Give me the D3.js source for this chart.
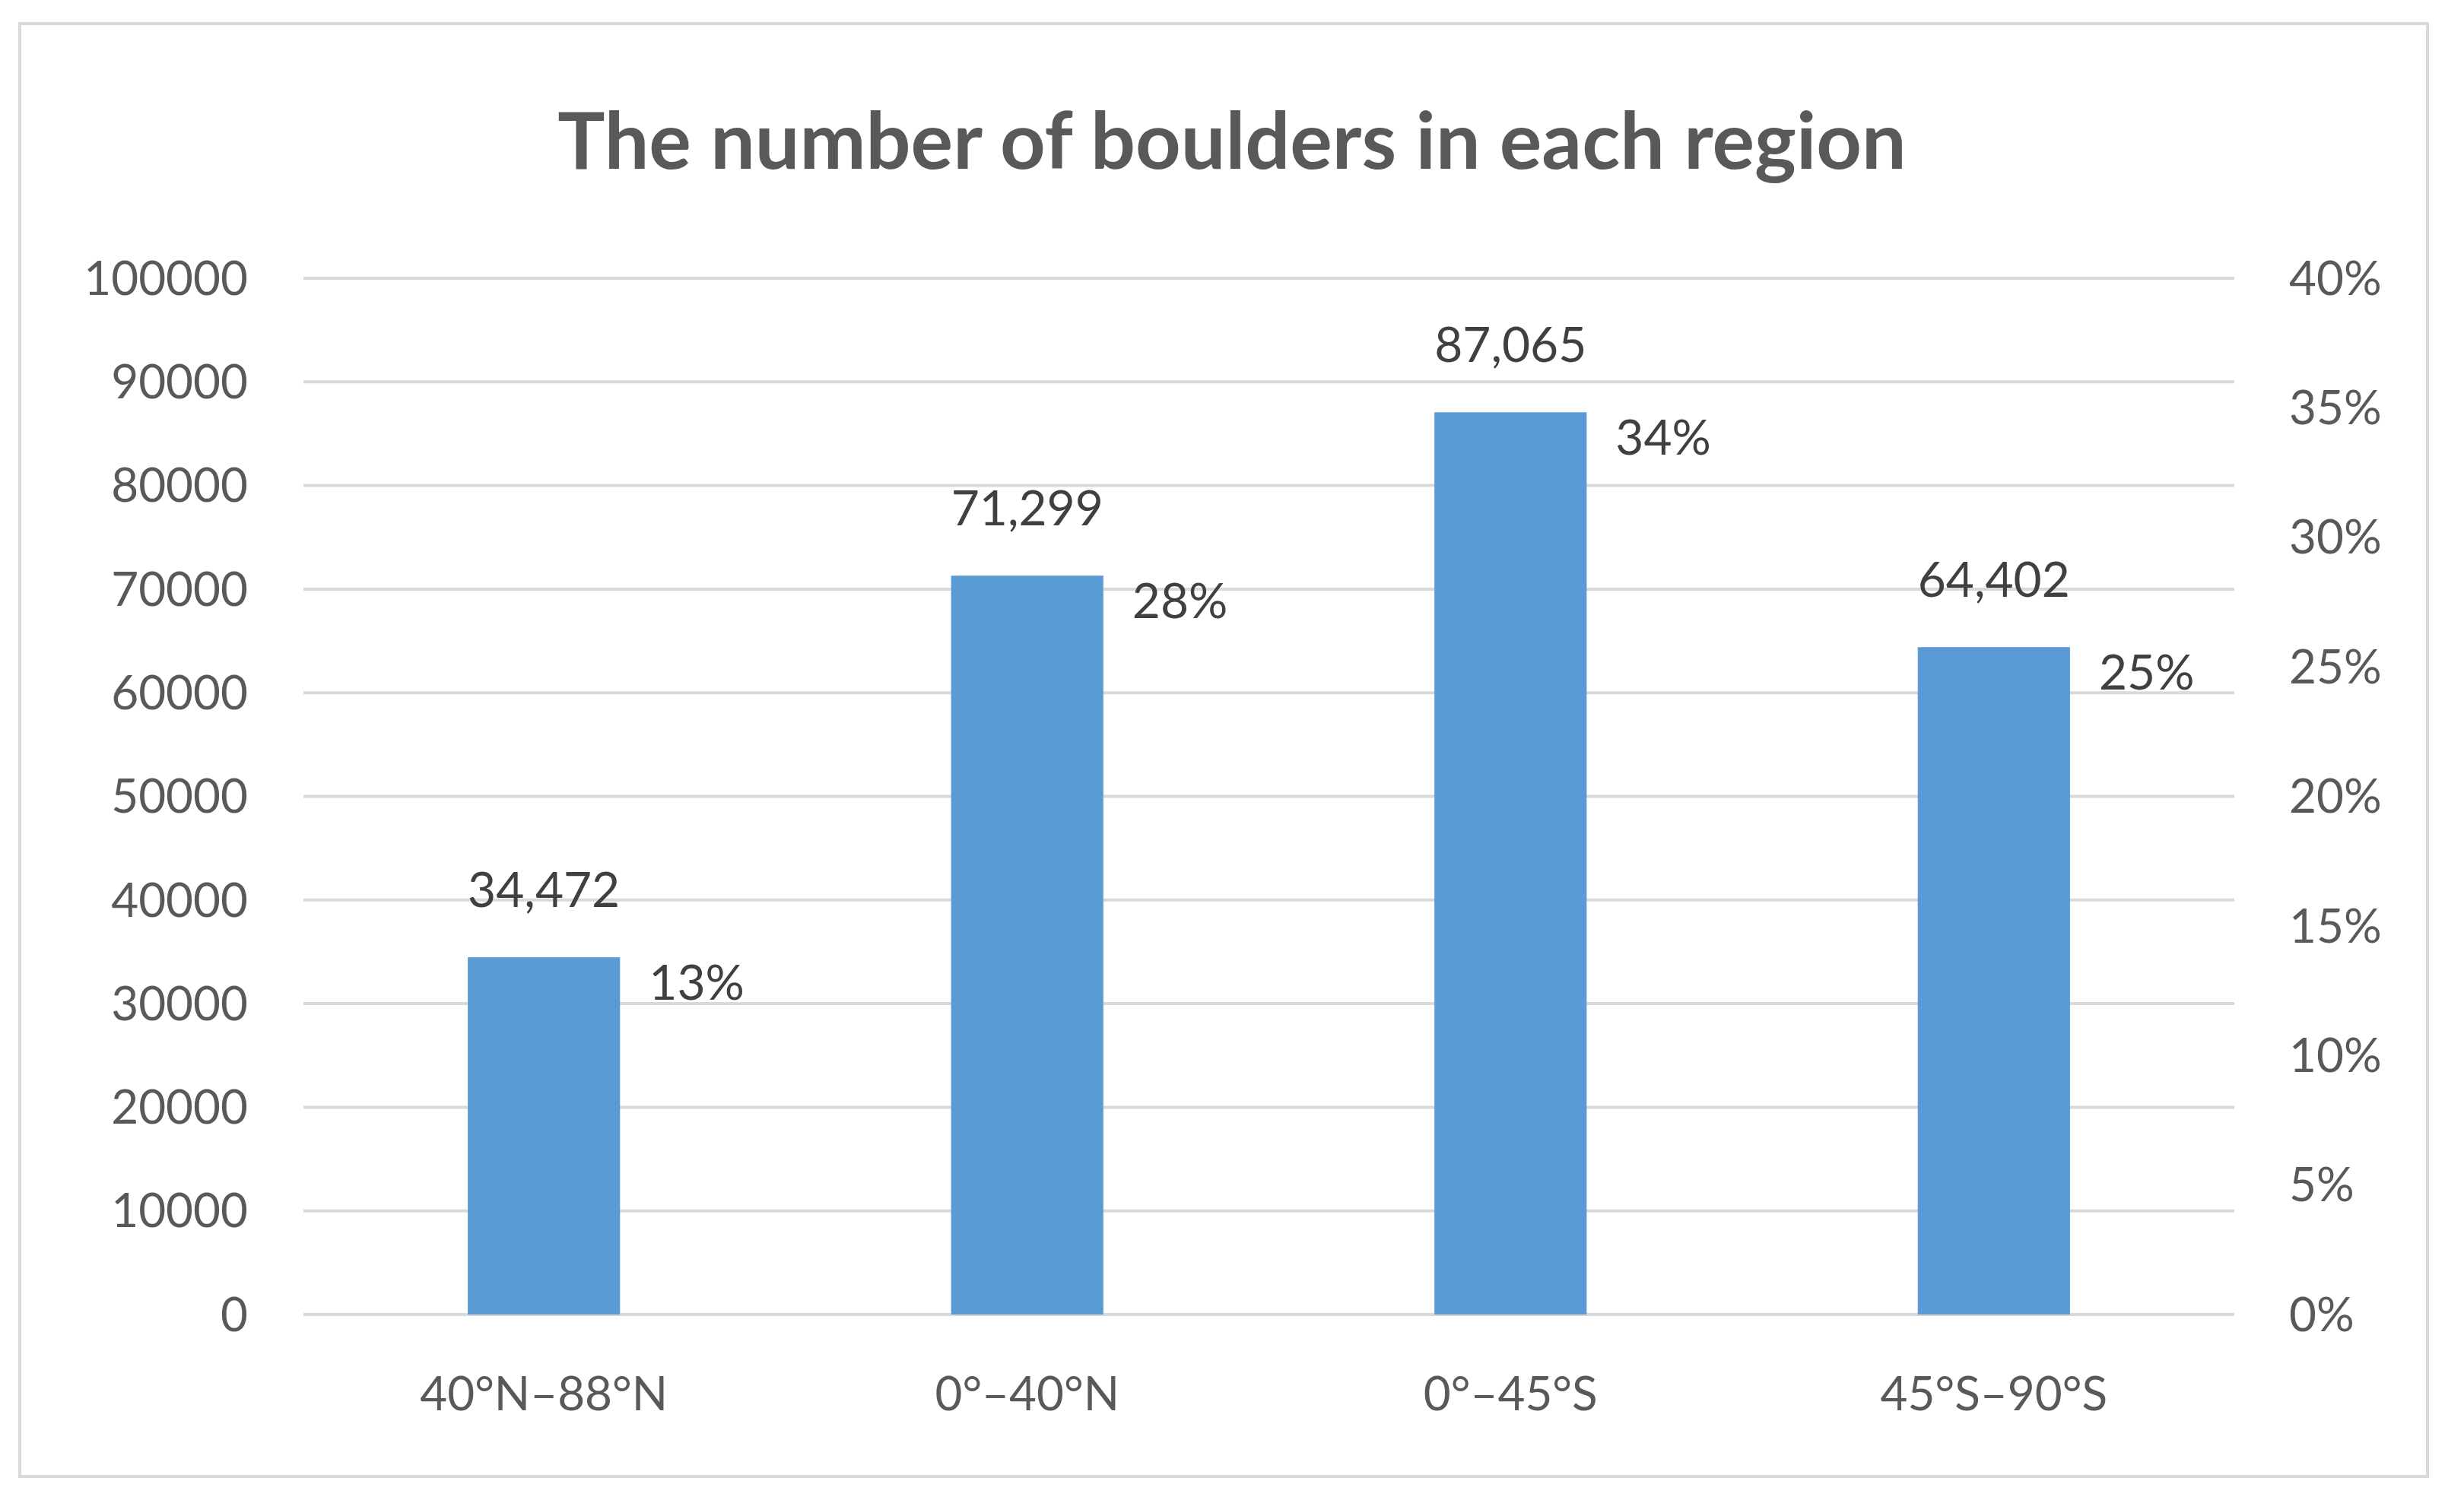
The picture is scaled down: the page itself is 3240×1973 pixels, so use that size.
<!DOCTYPE html>
<html><head><meta charset="utf-8">
<script src="https://cdn.jsdelivr.net/npm/d3@7"></script>
<style>body{margin:0;background:#fff}</style>
</head><body>
<script>
var categories = ["40°N–88°N", "0°–40°N", "0°–45°S", "45°S–90°S"];
var counts = [34472, 71299, 87065, 64402];
var shares = ["13%", "28%", "34%", "25%"];
var leftTicks = [0,10000,20000,30000,40000,50000,60000,70000,80000,90000,100000];
var rightTicks = [0,0.05,0.10,0.15,0.20,0.25,0.30,0.35,0.40];

var width = 3240, height = 1973;
var font = "Lato, 'Open Sans', sans-serif";
var svg = d3.select("body").append("svg").attr("width", width).attr("height", height);

svg.append("rect").attr("x", 26).attr("y", 31).attr("width", 3166).attr("height", 1911)
  .attr("fill", "#fff").attr("stroke", "#d9d9d9").attr("stroke-width", 4);

var x = d3.scaleBand().domain(categories).range([399, 2938]).paddingInner(0.685).paddingOuter(0.34);
var y = d3.scaleLinear().domain([0, 100000]).range([1729, 366]);
var y2 = d3.scaleLinear().domain([0, 0.4]).range([1729, 366]);

svg.append("g").selectAll("line").data(leftTicks).enter().append("line")
  .attr("x1", 399).attr("x2", 2938).attr("y1", d => y(d)).attr("y2", d => y(d))
  .attr("stroke", "#d9d9d9").attr("stroke-width", 4);

svg.append("g").selectAll("text").data(leftTicks).enter().append("text")
  .attr("x", 326).attr("y", d => y(d)).attr("dy", "0.35em").attr("text-anchor", "end")
  .attr("font-family", font).attr("font-size", 62).attr("fill", "#595959").text(d => d);

svg.append("g").selectAll("text").data(rightTicks).enter().append("text")
  .attr("x", 3010).attr("y", d => y2(d)).attr("dy", "0.35em")
  .attr("font-family", font).attr("font-size", 62).attr("fill", "#595959").text(d => Math.round(d*100) + "%");

svg.append("g").selectAll("rect").data(counts).enter().append("rect")
  .attr("x", (d, i) => x(categories[i])).attr("width", x.bandwidth())
  .attr("y", d => y(d)).attr("height", d => y(0) - y(d)).attr("fill", "#5b9bd5");

svg.append("g").selectAll("text").data(counts).enter().append("text")
  .attr("x", (d, i) => x(categories[i]) + x.bandwidth()/2).attr("y", d => y(d) - 66)
  .attr("text-anchor", "middle").attr("font-family", font).attr("font-size", 64).attr("fill", "#404040")
  .text(d => d3.format(",")(d));

svg.append("g").selectAll("text").data(counts).enter().append("text")
  .attr("x", (d, i) => x(categories[i]) + x.bandwidth() + 38).attr("y", d => y(d) + 56)
  .attr("font-family", font).attr("font-size", 64).attr("fill", "#404040")
  .text((d, i) => shares[i]);

svg.append("g").selectAll("text").data(categories).enter().append("text")
  .attr("x", d => x(d) + x.bandwidth()/2).attr("y", 1833).attr("dy", "0.35em")
  .attr("text-anchor", "middle").attr("font-family", font).attr("font-size", 62).attr("fill", "#595959")
  .text(d => d);

svg.append("text").attr("x", 1620).attr("y", 186).attr("dy", "0.35em").attr("text-anchor", "middle")
  .attr("font-family", font).attr("font-weight", "bold").attr("font-size", 104).attr("fill", "#595959")
  .text("The number of boulders in each region");
</script>
</body></html>
